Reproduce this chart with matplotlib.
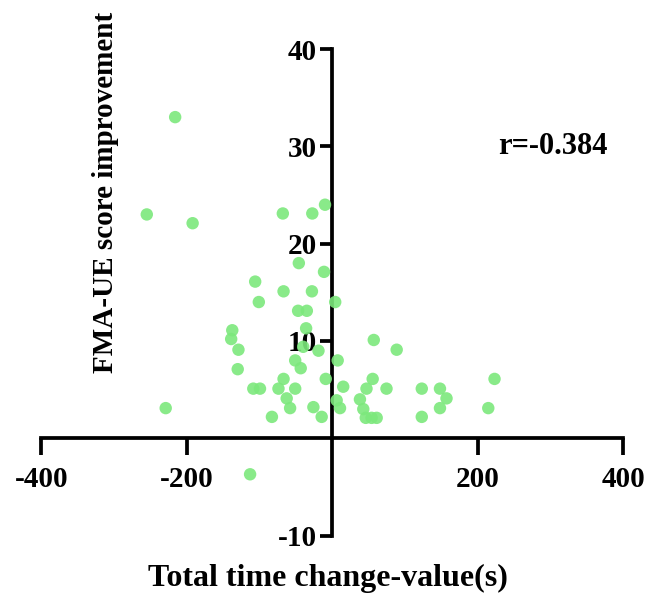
import matplotlib.pyplot as plt

# values
time_change = [-255, -192, -68, -27.5, -10, -46, -11.4, -106, -67, -28,
               -101, 4, -47, -35, -137.5, -139, -36, -129, -40, -19,
               57, 88.5, 7.4, -51, -43.4, -130, -67, -9, 55.5, 223,
               -108.6, -99.4, -74, -51, 15, 47, 74.5, 123, 148, 157,
               6, 38, -62.7, -58, -26, 10.6, 42.6, 148, 214.4, -229,
               -83, -14.6, 46, 54, 61, 123, -113, -216]
fma_improve = [23.0, 22.1, 23.1, 23.1, 24.0, 18.0, 17.1, 16.1, 15.1, 15.1,
               14.0, 14.0, 13.1, 13.1, 11.1, 10.2, 11.3, 9.1, 9.4, 9.0,
               10.1, 9.1, 8.0, 8.0, 7.2, 7.1, 6.1, 6.1, 6.1, 6.1,
               5.1, 5.1, 5.1, 5.1, 5.3, 5.1, 5.1, 5.1, 5.1, 4.1,
               3.9, 4.0, 4.1, 3.1, 3.2, 3.1, 3.0, 3.1, 3.1, 3.1,
               2.2, 2.2, 2.1, 2.1, 2.1, 2.2, -3.7, 33.0]
x_ticks = [-400, -200, 200, 400]
y_ticks = [-10, 10, 20, 30, 40]
r_text = 'r=-0.384'

plt.rcParams['font.family'] = ['Liberation Serif', 'DejaVu Serif']
plt.rcParams['font.weight'] = 'bold'

fig = plt.figure(figsize=(6.54, 5.96), dpi=100)
ax = fig.add_axes([41.3 / 654, 1 - 535.6 / 596, 582 / 654, 486.6 / 596])

ax.scatter(time_change, fma_improve, s=80, color='#7ce87c', alpha=0.9,
           edgecolors='none', zorder=3, clip_on=False)

ax.set_xlim(-400, 400)
ax.set_ylim(-10, 40)
ax.spines['left'].set_position(('data', 0))
ax.spines['bottom'].set_position(('data', 0))
ax.spines['top'].set_visible(False)
ax.spines['right'].set_visible(False)
for sp in ['left', 'bottom']:
    ax.spines[sp].set_linewidth(2.7)

ax.set_xticks(x_ticks)
ax.set_yticks(y_ticks)
ax.set_xticklabels([str(v) for v in x_ticks], fontsize=21, fontweight='bold')
ax.set_yticklabels([str(v) for v in y_ticks], fontsize=21, fontweight='bold')
ax.tick_params(axis='x', length=12, width=2.7, pad=8, direction='out')
ax.tick_params(axis='y', length=9, width=2.7, pad=2, direction='out')

ax.text(228, 30, r_text, fontsize=22, fontweight='bold', ha='left', va='center')
ax.text(-312, 25.3, 'FMA-UE score improvement', fontsize=21, fontweight='bold',
        rotation=90, ha='center', va='center')
fig.text(328 / 654, 1 - 578 / 596, 'Total time change-value(s)', fontsize=23,
         fontweight='bold', ha='center', va='center')

plt.savefig('out.png', dpi=100)
